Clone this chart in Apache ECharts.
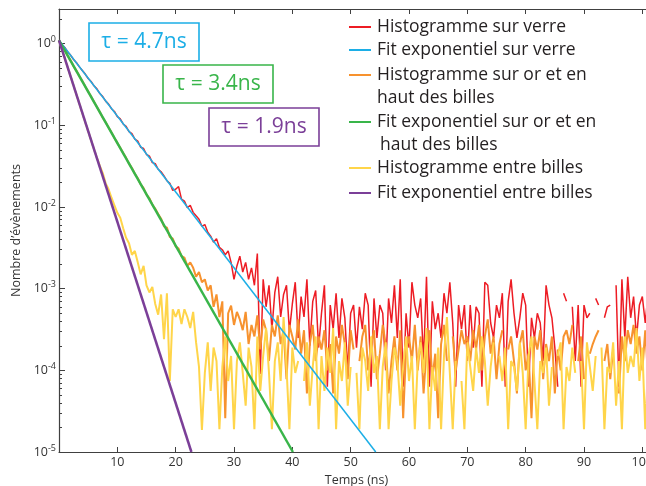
<!DOCTYPE html>
<html><head><meta charset="utf-8">
<script src="https://cdn.jsdelivr.net/npm/echarts@6/dist/echarts.min.js"></script>
<style>html,body{margin:0;padding:0;background:#fff}#c{width:646px;height:486px}</style>
</head><body><div id="c"></div>
<script>
// ---- data ----
const binWidth = 0.5; // ns, histogram bins start at t = 0

const histVerre = [
 1.1,0.98,0.9,0.79,0.72,0.64,0.585,0.52,0.47,0.425,
 0.375,0.345,0.305,0.28,0.245,0.225,0.198,0.182,0.16,0.148,
 0.128,0.12,0.104,0.097,0.084,0.079,0.068,0.064,0.054,0.052,
 0.044,0.042,0.035,0.034,0.029,0.027,
 0.024,0.021,0.0195,0.016,0.0165,0.0178,0.0125,0.0118,0.0098,0.0105,
 0.0086,0.0078,0.0071,0.0058,0.0061,0.0049,0.0044,0.0037,0.0041,0.0032,
 0.003,0.0026,0.0029,0.0021,
 0.0013,0.0019,0.0025,0.0016,0.0021,0.0013,0.0018,0.0011,0.0027,0.00009,
 0.0013,0.0006,0.0011,0.00032,0.0009,0.0014,0.00045,0.00085,0.0011,0.0003,
 0.00065,0.0012,0.00025,0.0008,0.00045,0.0013,0.0002,0.0007,0.00095,0.00019,
 0.0005,0.0011,0.000063,0.00063,0.00032,0.00088,0.00025,0.00076,0.00044,0.0001,
 0.0005,0.00063,0.00019,0.0006,0.00032,0.00088,0.00063,0.000063,0.00076,0.00025,
 0.00063,0.0005,0.0001,0.00076,0.00038,0.0011,0.00025,0.0013,0.000063,0.0005,
 0.00019,0.0012,0.00063,0.00044,0.00076,0.00013,0.0014,0.000063,0.0007,0.00032,
 0.0005,0.00025,0.00088,0.0005,0.0012,0.00038,0.000063,0.00063,0.00032,0.00063,
 0.00013,0.00063,0.00019,0.0006,0.0005,0.000063,0.0012,0.0011,0.00038,0.00025,
 0.00063,0.00044,0.00088,0.000063,0.0007,0.0013,0.0005,0.00025,0.00044,0.00088,
 0.00063,0.000063,0.00044,0.00025,0.0005,0.00038,0.00013,0.0011,0.00063,0.00044,
 0.00019,0.000063,'-',0.00088,0.0007,'-',0.0006,0.00013,0.00063,0.000063,
 0.00063,0.00044,0.0005,'-',0.00076,0.00063,'-',0.00044,0.0006,0.00063,
 '-',0.0011,0.000063,0.0013,0.00025,0.0014,0.00044,0.0008,0.00025,0.00063,
 0.0008,0.00038,0.0009,0.0005
];

const histOr = [
 1.1,0.95,0.83,0.71,0.62,0.53,0.465,0.4,0.35,0.3,
 0.26,0.225,0.195,0.168,0.146,0.124,0.109,0.094,0.082,0.07,
 0.061,0.053,0.046,0.04,0.034,0.03,0.0255,0.0225,0.019,0.017,
 0.0142,0.0128,0.0107,0.0095,0.0082,0.0072,0.0058,0.0056,0.0043,0.0041,
 0.0033,0.0031,
 0.0025,0.0024,0.0019,0.0021,0.0018,0.0014,0.0016,0.0012,0.0013,0.00095,
 0.0011,0.0006,0.00085,0.00045,0.0007,0.000026,0.0005,0.00062,0.00036,0.00052,
 0.00042,0.00031,0.00052,0.00021,0.00036,0.00026,0.00047,0.00018,0.00042,0.00031,
 0.00013,0.00036,0.00026,0.00047,0.00021,0.00031,0.000078,0.00036,0.00026,0.00018,
 0.00042,0.00016,0.00031,0.000052,0.00021,0.00036,0.00013,0.00026,0.00018,0.00031,
 0.0001,0.00021,0.000052,0.00026,0.00016,0.00036,0.00021,0.000078,0.00031,0.00018,
 '-',0.00013,0.00026,0.00036,0.0001,0.00021,0.00031,0.000078,0.00016,0.00036,
 0.00021,0.000052,0.00013,0.00026,0.0001,0.00031,0.000026,0.00018,0.00026,0.00013,
 0.00036,0.0001,0.00026,0.000052,0.00018,0.00031,0.000078,0.00016,0.000026,0.00021,
 0.00036,0.00013,'-',0.00026,0.0001,0.00018,0.00031,0.00021,0.00026,0.00013,
 0.00031,0.00018,0.00036,0.0001,0.00026,0.00042,0.00016,0.00026,0.000078,0.00021,
 0.00031,'-',0.00018,0.00026,0.00013,0.000052,0.00021,0.00031,0.0001,0.00016,
 0.000026,0.00026,0.00018,0.00031,0.000078,0.00021,0.00013,0.00026,0.000052,0.00018,
 0.0001,0.00026,0.00031,0.00021,0.00036,'-',0.00013,0.00026,0.000078,'-',
 0.00016,0.00021,0.00026,0.00031,'-',0.00013,0.00021,0.000078,0.00018,'-',
 0.000052,0.00026,0.00013,0.00031,0.00021,0.00036,0.00016,0.00026,0.0001,0.00031,
 0.000078,0.00021
];

const histEntre = [
 1.1,0.85,0.66,0.51,0.395,0.305,0.236,0.183,0.141,0.109,
 0.085,0.066,0.051,0.04,0.032,0.026,0.0195,0.0165,0.013,0.0105,
 0.0085,0.0074,0.0055,0.0042,0.0036,0.0026,0.0029,0.0021,0.0015,0.0019,
 0.0011,0.0009,0.00105,0.00065,0.00048,0.00085,0.00024,0.00088,0.000074,0.00056,
 0.00045,0.00056,0.00037,0.00056,0.00045,0.00033,0.00052,0.00022,0.00011,0.0000186,
 0.000093,0.00022,0.000056,0.00019,0.00013,0.000019,0.00011,0.00026,0.000074,0.00015,
 0.000019,0.00013,0.00022,0.000093,0.000037,0.00019,0.00011,0.000019,0.00026,0.000056,
 0.00015,0.00033,0.000093,0.000019,0.00013,0.00022,0.000074,0.00045,0.00011,0.000019,
 0.00019,0.000093,0.00013,'-',0.000074,0.00022,0.000037,0.00011,0.00026,0.000019,
 0.00015,0.000056,0.00019,0.000093,0.00033,0.000019,0.00013,0.000074,0.00022,0.000037,
 0.00011,'-',0.000093,0.000019,0.00019,0.00013,0.000056,0.00026,0.000093,0.00015,
 0.000019,0.00011,0.00022,0.000019,0.000074,0.00019,0.00013,0.000037,0.00011,0.00026,
 0.000074,0.00015,0.000019,0.00013,0.00022,0.000093,0.00033,0.000019,0.00011,0.000056,
 0.00019,0.000019,0.00015,0.00045,0.000093,0.000019,0.00013,'-',0.000074,0.000019,
 0.00022,0.00011,0.000056,0.00019,0.000093,0.00026,0.00013,0.000037,0.00011,0.00022,
 '-',0.00015,0.000074,0.00019,0.000019,0.00013,0.00011,0.000056,0.00022,0.000093,
 0.000019,0.00015,0.00026,0.000074,0.000019,0.00013,0.000093,0.00019,0.000037,0.00011,
 '-',0.00015,0.00022,0.000019,0.00011,0.000074,0.00019,0.000093,'-',0.00013,
 0.000019,0.00022,0.00011,0.000056,0.00015,'-',0.00019,0.000019,0.00011,0.000093,
 0.00022,0.000037,0.00013,0.000019,0.00026,0.000093,0.00015,0.00011,0.00033,0.000074,
 0.00019,0.000019,0.00013,0.00022
];

// exponential fits: [start, end] points (straight lines on the log scale)
const fitVerreT = [0, 54.3];  const fitVerreY = [1.1, 1e-5];
const fitOrT    = [0, 40.1];  const fitOrY    = [1.1, 1e-5];
const fitEntreT = [0, 22.7];  const fitEntreY = [1.1, 1e-5];

const seriesNames = [
 'Histogramme sur verre',
 'Fit exponentiel sur verre',
 'Histogramme sur or et en\nhaut des billes',
 'Fit exponentiel sur or et en\nhaut des billes',
 'Histogramme entre billes',
 'Fit exponentiel entre billes'
];
const tauLabels = ['τ = 4.7ns', 'τ = 3.4ns', 'τ = 1.9ns'];

const xTicks = [10,20,30,40,50,60,70,80,90,100];
const yMajor = [1e-5,1e-4,1e-3,1e-2,1e-1,1];
const yMinorMantissa = [2,3,4,5,6,7,8,9];
const yMinor = yMajor.flatMap(d => yMinorMantissa.map(m => m*d)).filter(v => v < 2.6);

// ---- chart ----
const FONT = '"Open Sans", "Noto Sans", sans-serif';
const AX = '#404040';
const TXT = '#333333';
const colors = ['#ED1C24','#1CAEE6','#F7922E','#39B54A','#FFD54A','#7B3F98'];

const toPts = vals => vals.map((v,i) => [i*binWidth, v]);
const toFit = (ts, ys) => ts.map((t,i) => [t, ys[i]]);

const chart = echarts.init(document.getElementById('c'), null, {renderer:'canvas'});

const legendY = [27, 50, 75, 122, 168, 193];
const legendGraphics = [];
[0,1,2,3,4,5].forEach((k, i) => {
  const y = legendY[i];
  legendGraphics.push({type:'line', shape:{x1:349,y1:y,x2:371,y2:y}, style:{stroke:colors[k], lineWidth:2}});
  seriesNames[k].split('\n').forEach((ln, j) => {
    legendGraphics.push({type:'text', x: 377 + (j>0 && k===3 ? 3 : 0), y: y + j*23,
      style:{text: ln, fill:'#231F20', font:'17.5px ' + FONT, verticalAlign:'middle', align:'left'}});
  });
});

const tauBoxes = [
  {x:89, y:23, c:colors[1]},
  {x:163, y:65, c:colors[3]},
  {x:209, y:108, c:colors[5]}
];
const tauGraphics = tauBoxes.map((b, i) => ({
  type:'group', x:b.x, y:b.y,
  children:[
    {type:'rect', shape:{x:0,y:0,width:110,height:38}, style:{fill:'#fff', stroke:b.c, lineWidth:1.6}},
    {type:'text', x:55, y:19, style:{text:tauLabels[i], fill:b.c, font:'21px ' + FONT, align:'center', verticalAlign:'middle'}}
  ]
}));

const yMin = 1e-5, yMax = 2.66, xMin = 0, xMax = 102;

chart.setOption({
  animation:false,
  backgroundColor:'#fff',
  grid:{left:59, right:-8, top:9, bottom:34, containLabel:false, outerBoundsMode:'none'},
  xAxis:[
    {type:'value', min:xMin, max:xMax, position:'bottom',
     axisLine:{show:true, onZero:false, lineStyle:{color:AX, width:1.2}},
     axisTick:{show:true, inside:true, length:5, customValues:xTicks, lineStyle:{color:AX, width:1}},
     axisLabel:{show:true, customValues:xTicks, margin:4, color:TXT, fontFamily:FONT, fontSize:12.5},
     splitLine:{show:false},
     name:'Temps (ns)', nameLocation:'middle', nameGap:16,
     nameTextStyle:{color:TXT, fontFamily:FONT, fontSize:12.5}},
    {type:'value', min:xMin, max:xMax, position:'top',
     axisLine:{show:true, onZero:false, lineStyle:{color:AX, width:1.2}},
     axisTick:{show:true, inside:true, length:5, customValues:xTicks, lineStyle:{color:AX, width:1}},
     axisLabel:{show:false}, splitLine:{show:false}}
  ],
  yAxis:[
    {type:'log', logBase:10, min:yMin, max:yMax, position:'left',
     axisLine:{show:true, onZero:false, lineStyle:{color:AX, width:1.2}},
     axisTick:{show:true, inside:true, length:6, customValues:yMajor, lineStyle:{color:AX, width:1}},
     axisLabel:{show:true, customValues:yMajor, margin:3,
       formatter: v => '{b|10}{e|' + Math.round(Math.log10(v)) + '}',
       rich:{
         b:{fontSize:12.5, fontFamily:FONT, color:TXT},
         e:{fontSize:9, fontFamily:FONT, color:TXT, padding:[0,0,8,0]}
       }},
     splitLine:{show:false},
     name:'Nombre d\u2019évènements', nameLocation:'middle', nameGap:30, nameRotate:90,
     nameTextStyle:{color:TXT, fontFamily:FONT, fontSize:12.5}},
    {type:'log', logBase:10, min:yMin, max:yMax, position:'left',
     axisLine:{show:false},
     axisTick:{show:true, inside:true, length:3, customValues:yMinor, lineStyle:{color:AX, width:1}},
     axisLabel:{show:false}, splitLine:{show:false}}
  ],
  series:[
    {name:seriesNames[0], type:'line', data:toPts(histVerre), symbol:'none', connectNulls:false,
     lineStyle:{color:colors[0], width:1.5}, itemStyle:{color:colors[0]}, z:2},
    {name:seriesNames[2], type:'line', data:toPts(histOr), symbol:'none', connectNulls:false,
     lineStyle:{color:colors[2], width:2}, itemStyle:{color:colors[2]}, z:3},
    {name:seriesNames[4], type:'line', data:toPts(histEntre), symbol:'none', connectNulls:false,
     lineStyle:{color:colors[4], width:2}, itemStyle:{color:colors[4]}, z:4},
    {name:seriesNames[1], type:'line', data:toFit(fitVerreT, fitVerreY), symbol:'none',
     lineStyle:{color:colors[1], width:1.5}, itemStyle:{color:colors[1]}, z:5},
    {name:seriesNames[3], type:'line', data:toFit(fitOrT, fitOrY), symbol:'none',
     lineStyle:{color:colors[3], width:2.5}, itemStyle:{color:colors[3]}, z:6},
    {name:seriesNames[5], type:'line', data:toFit(fitEntreT, fitEntreY), symbol:'none',
     lineStyle:{color:colors[5], width:2.5}, itemStyle:{color:colors[5]}, z:7}
  ],
  graphic: tauGraphics.concat(legendGraphics)
});
</script>
</body></html>
